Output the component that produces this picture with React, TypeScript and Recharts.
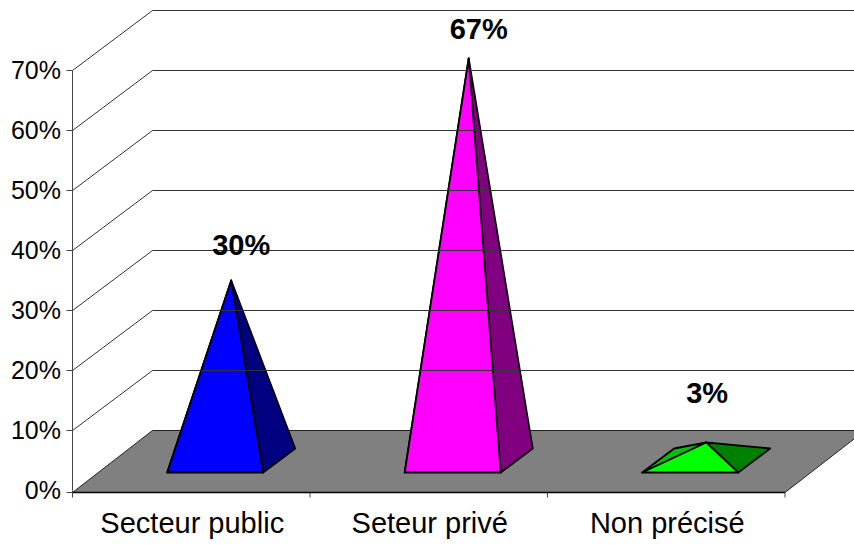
import { BarChart, Bar, XAxis, YAxis, LabelList, usePlotArea } from 'recharts';

const categories = ['Secteur public', 'Seteur privé', 'Non précisé'];
const shares = [30, 67, 3];
const yTicks = [0, 10, 20, 30, 40, 50, 60, 70];

// front, right side and hidden back-left face of each pyramid
const frontColors = ['#0000FF', '#FF00FF', '#00FF00'];
const sideColors = ['#000080', '#800080', '#008000'];
const backColors = ['#0000C0', '#C000C0', '#00C000'];

// hand placed data labels, relative to the apex
const labelNudgeX = [10, 10, 1];
const labelNudgeY = [-26, -20, -40];

const data = categories.map((name, i) => ({ name, value: shares[i] }));

const WIDTH = 854;
const HEIGHT = 545;
const FONT = '"Liberation Sans", Arial, sans-serif';

// fake 3D depth of the chart box
const DEPTH_X = 80;
const DEPTH_Y = 60;
const FLOOR_DROP = 2;

// where a pyramid sits on the floor
const BASE_SHIFT_X = 23.7;
const BASE_LIFT = 18;
const BASE_DX = 32;
const BASE_DY = 24;
const APEX_LIFT = 30;

const points = (pts: number[][]) => pts.map((p) => p.join(',')).join(' ');

const Floor = () => {
  const plot = usePlotArea();
  if (!plot) return null;
  const left = plot.x;
  const right = plot.x + plot.width;
  const front = plot.y + plot.height + FLOOR_DROP;
  const back = plot.y + plot.height - DEPTH_Y;
  const band = plot.width / categories.length;
  return (
    <g>
      <polygon
        points={points([
          [left, front],
          [left + DEPTH_X, back],
          [right + DEPTH_X, back],
          [right, front],
        ])}
        fill="#808080"
        stroke="#222"
      />
      <line x1={left} y1={front} x2={right} y2={front} stroke="#000" strokeWidth={1.5} />
      <line x1={left} y1={front - FLOOR_DROP} x2={left} y2={front + 5} stroke="#444" />
      {categories.map((c, i) => (
        <line
          key={c}
          x1={left + band * (i + 1)}
          y1={front}
          x2={left + band * (i + 1)}
          y2={front + 5}
          stroke="#444"
        />
      ))}
    </g>
  );
};

const WallTick = ({ x, y, payload }: any) => {
  // recharts hands over the label anchor, 8px left of the axis
  const axisX = x + 8;
  const isZero = payload.value === 0;
  const markY = isZero ? y + FLOOR_DROP : y;
  return (
    <g>
      {!isZero && (
        <polyline
          points={points([
            [axisX, y],
            [axisX + DEPTH_X, y - DEPTH_Y],
            [WIDTH, y - DEPTH_Y],
          ])}
          fill="none"
          stroke="#333"
        />
      )}
      <line x1={axisX - 6} y1={markY} x2={axisX} y2={markY} stroke="#444" />
      <text x={axisX - 11.5} y={y + 8.5} textAnchor="end" fontFamily={FONT} fontSize={25} fill="#000">
        {payload.value}%
      </text>
    </g>
  );
};

const CategoryTick = ({ x, y, payload }: any) => (
  <text x={x + 1} y={y + 34.5} textAnchor="middle" fontFamily={FONT} fontSize={29} fill="#000">
    {payload.value}
  </text>
);

const Pyramid = ({ x, y, width, height, index }: any) => {
  const bottom = y + height;
  const frontY = bottom - BASE_LIFT;
  const backY = frontY - BASE_DY;
  const l = x + BASE_SHIFT_X;
  const r = l + width;
  const apex = [l + width / 2 + BASE_DX / 2, y - APEX_LIFT];
  const edge = { stroke: '#000', strokeWidth: 1.8, strokeLinejoin: 'round' as const };
  return (
    <g>
      <polygon
        points={points([[l, frontY], [l + BASE_DX, backY], apex])}
        fill={backColors[index]}
        {...edge}
      />
      <polygon
        points={points([[r, frontY], [r + BASE_DX, backY], apex])}
        fill={sideColors[index]}
        {...edge}
      />
      <polygon points={points([[l, frontY], [r, frontY], apex])} fill={frontColors[index]} {...edge} />
    </g>
  );
};

const ShareLabel = ({ x, y, width, value, index }: any) => (
  <text
    x={x + BASE_SHIFT_X + width / 2 + BASE_DX / 2 + labelNudgeX[index]}
    y={y - APEX_LIFT + labelNudgeY[index]}
    textAnchor="middle"
    fontFamily={FONT}
    fontSize={29}
    fontWeight="bold"
    fill="#000"
  >
    {value}%
  </text>
);

const App = () => {
  return (
    <div style={{ position: 'absolute', left: 0, top: 0, width: WIDTH, height: HEIGHT, background: '#fff' }}>
      <BarChart
        width={WIDTH}
        height={HEIGHT}
        data={data}
        margin={{ top: 70.5, right: 69, left: 0, bottom: 0 }}
      >
        <XAxis dataKey="name" height={54.5} axisLine={false} tickLine={false} tick={CategoryTick} interval={0} />
        <YAxis
          width={72.5}
          domain={[0, 70]}
          ticks={yTicks}
          interval={0}
          axisLine={{ stroke: '#444' }}
          tickLine={false}
          tick={WallTick}
        />
        <Floor />
        <Bar dataKey="value" barSize={96} isAnimationActive={false} shape={Pyramid}>
          <LabelList dataKey="value" content={ShareLabel} />
        </Bar>
      </BarChart>
    </div>
  );
};

export default App;
